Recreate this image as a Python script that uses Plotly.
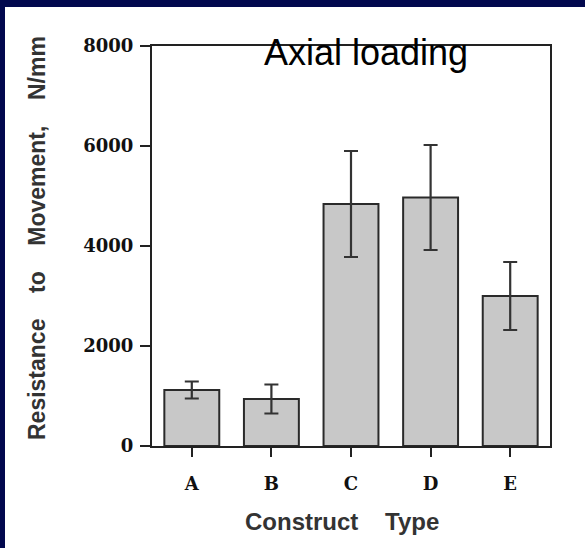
import plotly.graph_objects as go

categories = ["A", "B", "C", "D", "E"]
values = [1120, 940, 4840, 4970, 3000]
errors = [170, 290, 1060, 1050, 680]
y_ticks = [0, 2000, 4000, 6000, 8000]

W, H = 585, 548
L, R, T, B = 152, 35, 46, 102

fig = go.Figure()
fig.add_trace(go.Bar(
    x=categories, y=values,
    marker=dict(color="#c8c8c8", line=dict(color="#2a2a2a", width=2)),
    error_y=dict(type="data", array=errors, visible=True,
                 color="#333333", thickness=2.2, width=7),
))

tick_font = dict(family="DejaVu Serif", size=18, color="#111111", weight="bold")
fig.update_layout(
    width=W, height=H,
    margin=dict(l=L, r=R, t=T, b=B, pad=0),
    paper_bgcolor="white", plot_bgcolor="white",
    bargap=0.31, showlegend=False,
    xaxis=dict(range=[-0.5, 4.5], showline=True, mirror=True, linecolor="#222222",
               linewidth=2, ticks="outside", ticklen=9, tickwidth=2,
               tickcolor="#222222", tickfont=tick_font, showgrid=False,
               zeroline=False, ticklabelstandoff=11),
    yaxis=dict(range=[0, 8000], tickvals=y_ticks, showline=True, mirror=True,
               linecolor="#222222", linewidth=2, ticks="outside", ticklen=10,
               tickwidth=2, tickcolor="#222222", tickfont=tick_font,
               showgrid=False, zeroline=False, ticklabelstandoff=3),
)

sp = "\u00a0" * 4
pw, ph = W - L - R, H - T - B
def px(xp):
    return (xp - L) / pw
def py(yp):
    return (H - B - yp) / ph

fig.add_annotation(text="Resistance" + sp + "to" + sp + "Movement," + sp + "N/mm",
                   xref="paper", yref="paper", x=px(37), y=py(238),
                   textangle=-90, showarrow=False, xanchor="center", yanchor="middle",
                   font=dict(family="Liberation Sans", size=23, color="#333333", weight="bold"))
fig.add_annotation(text="Construct" + "\u00a0" * 4 + "Type",
                   xref="paper", yref="paper", x=px(342), y=py(521),
                   showarrow=False, xanchor="center", yanchor="middle",
                   font=dict(family="Liberation Sans", size=24, color="#333333", weight="bold"))
fig.add_annotation(text="Axial loading",
                   xref="paper", yref="paper", x=px(366), y=py(52),
                   showarrow=False, xanchor="center", yanchor="middle",
                   font=dict(family="Liberation Sans", size=36, color="#000000"))

# dark blue frame at top and left
fig.add_shape(type="rect", xref="paper", yref="paper", x0=px(0), x1=px(W), y0=py(7), y1=py(-5),
              fillcolor="#02084e", line=dict(width=0), layer="above")
fig.add_shape(type="rect", xref="paper", yref="paper", x0=px(-5), x1=px(5), y0=py(H + 5), y1=py(0),
              fillcolor="#02084e", line=dict(width=0), layer="above")

fig.write_html("out.html")
